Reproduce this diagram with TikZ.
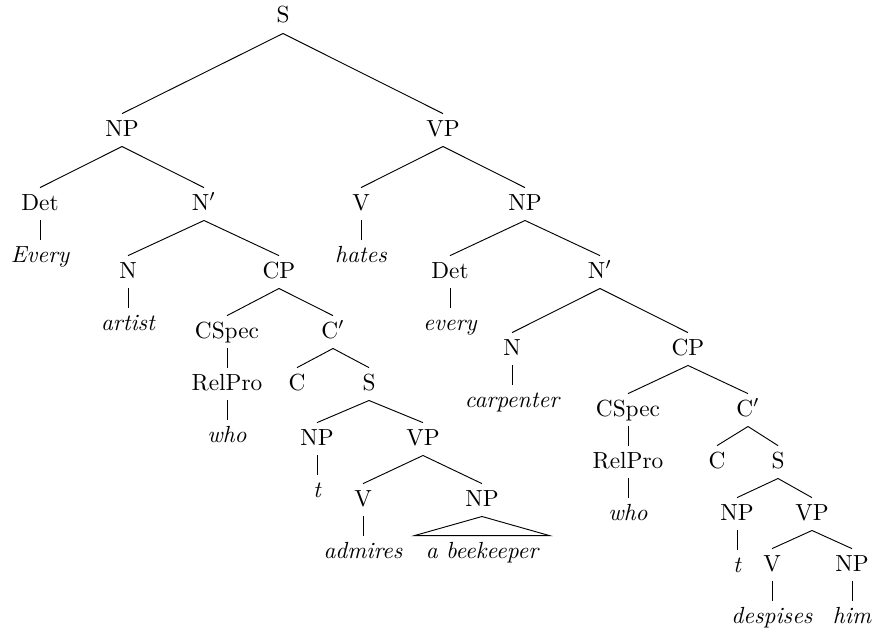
\documentclass[tikz,border=0pt]{standalone}
\begin{document}
\begin{tikzpicture}[x=0.429pt, y=-0.429pt,
  lab/.style={anchor=base, inner xsep=1pt, inner ysep=0pt,
              text height=9.4pt, text depth=4.3pt},
  leaf/.style={lab, font=\itshape},
  edge/.style={line width=0.4pt}]
\useasboundingbox (0,0) rectangle (872,630);

% --- labels (x = centre, y = baseline) ---
\node[lab] (s0)   at (283,23)  {S};
\node[lab] (np1)  at (122,136) {NP};
\node[lab] (vp1)  at (443,136) {VP};
\node[lab] (det1) at (40,210)  {Det};
\node[lab] (nb1)  at (204,210) {N$'$};
\node[lab] (v1)   at (361,210) {V};
\node[lab] (np4)  at (525,210) {NP};
\node[leaf] (every1) at (40,262)  {Every};
\node[leaf] (hates)  at (361,262) {hates};
\node[lab] (n1)   at (128,278) {N};
\node[lab] (cp1)  at (279,278) {CP};
\node[lab] (det2) at (450,278) {Det};
\node[lab] (nb2)  at (600,278) {N$'$};
\node[leaf] (artist) at (128,330) {artist};
\node[leaf] (every2) at (450,330) {every};
\node[lab] (cspec1) at (227,338) {CSpec};
\node[lab] (cb1)    at (333,338) {C$'$};
\node[lab] (n3)     at (512,355) {N};
\node[lab] (cp2)    at (688,355) {CP};
\node[lab] (rel1)   at (227,390) {RelPro};
\node[leaf] (who1)  at (227,442) {who};
\node[lab] (c1)     at (297,390) {C};
\node[lab] (s1)     at (369,390) {S};
\node[leaf] (carp)  at (512,407) {carpenter};
\node[lab] (np2)    at (317,445) {NP};
\node[lab] (vp2)    at (423,445) {VP};
\node[leaf] (t1)    at (317,497) {t};
\node[lab] (v2)     at (363,506) {V};
\node[lab] (np3)    at (482,506) {NP};
\node[leaf] (admires) at (363,558) {admires};
\node[leaf, inner xsep=4.7pt] (bee) at (482,558) {a beekeeper};
\node[lab] (cspec2) at (628,416) {CSpec};
\node[lab] (cb2)    at (748,416) {C$'$};
\node[lab] (rel2)   at (628,468) {RelPro};
\node[leaf] (who2)  at (628,520) {who};
\node[lab] (c2)     at (717,468) {C};
\node[lab] (s2)     at (778,468) {S};
\node[lab] (np5)    at (737,520) {NP};
\node[lab] (vp3)    at (812,520) {VP};
\node[leaf] (t2)    at (737,572) {t};
\node[lab] (v3)     at (772,571) {V};
\node[lab] (np6)    at (852,571) {NP};
\node[leaf] (desp)  at (772,623) {despises};
\node[leaf] (him)   at (852,623) {him};

% --- branches ---
\foreach \p/\c in {s0/np1, s0/vp1,
                   np1/det1, np1/nb1, det1/every1,
                   nb1/n1, nb1/cp1, n1/artist,
                   cp1/cspec1, cp1/cb1, cspec1/rel1, rel1/who1,
                   cb1/c1, cb1/s1, s1/np2, s1/vp2, np2/t1,
                   vp2/v2, vp2/np3, v2/admires,
                   vp1/v1, vp1/np4, v1/hates,
                   np4/det2, np4/nb2, det2/every2,
                   nb2/n3, nb2/cp2, n3/carp,
                   cp2/cspec2, cp2/cb2, cspec2/rel2, rel2/who2,
                   cb2/c2, cb2/s2, s2/np5, s2/vp3, np5/t2,
                   vp3/v3, vp3/np6, v3/desp, np6/him}
  \draw[edge] (\p.south) -- (\c.north);

% roof over the unanalysed object
\draw[edge] (np3.south) -- (bee.north west) -- (bee.north east) -- cycle;
\end{tikzpicture}
\end{document}
